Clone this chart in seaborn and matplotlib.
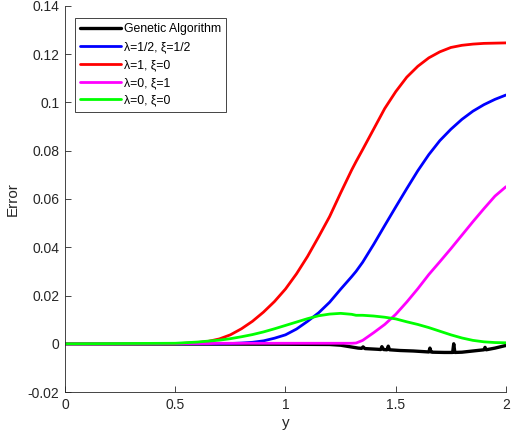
import numpy as np
import pandas as pd
import matplotlib
matplotlib.use("Agg")
import matplotlib.pyplot as plt
import seaborn as sns

# valores
x_grid = [0.0, 0.5, 0.6, 0.65, 0.7, 0.75, 0.8, 0.85, 0.9, 0.95, 1.0, 1.05, 1.1, 1.15,
          1.2, 1.25, 1.3, 1.32, 1.35, 1.4, 1.45, 1.5, 1.55, 1.6, 1.65, 1.7, 1.75,
          1.8, 1.85, 1.9, 1.95, 2.0]

err_half = [0.0, 0.0, 0.0, 0.0, 0.0, 0.0001, 0.0003, 0.0006, 0.0012, 0.0023, 0.0037,
            0.0061, 0.0093, 0.0128, 0.0172, 0.0226, 0.0278, 0.0300, 0.0338, 0.0412,
            0.0490, 0.0567, 0.0643, 0.0717, 0.0784, 0.0842, 0.0889, 0.0930, 0.0964,
            0.0991, 0.1013, 0.1031]

err_l1 = [0.0, 0.0, 0.0005, 0.0010, 0.0020, 0.0037, 0.0062, 0.0093, 0.0131, 0.0175,
          0.0227, 0.0290, 0.0362, 0.0443, 0.0527, 0.0625, 0.0720, 0.0755, 0.0805,
          0.0890, 0.0975, 0.1045, 0.1105, 0.1150, 0.1185, 0.1210, 0.1228, 0.1237,
          0.1242, 0.1245, 0.1246, 0.1247]

err_x1 = [0.0, 0.0001, 0.0001, 0.0001, 0.0002, 0.0002, 0.0002, 0.0002, 0.0002, 0.0002,
          0.0002, 0.0002, 0.0002, 0.0002, 0.0002, 0.0002, 0.0002, 0.0003, 0.0014,
          0.0046, 0.0080, 0.0122, 0.0173, 0.0228, 0.0287, 0.0340, 0.0394, 0.0450,
          0.0506, 0.0560, 0.0612, 0.0651]

err_00 = [0.0, 0.0002, 0.0007, 0.0011, 0.0015, 0.0021, 0.0029, 0.0038, 0.0049, 0.0062,
          0.0076, 0.0090, 0.0104, 0.0116, 0.0123, 0.0126, 0.0122, 0.0118, 0.0118,
          0.0115, 0.0110, 0.0103, 0.0091, 0.0080, 0.0067, 0.0052, 0.0037, 0.0024,
          0.0014, 0.0008, 0.0005, 0.0004]

# algoritmo genetico (com os picos)
x_ga = [0.0, 1.0, 1.2, 1.25, 1.29, 1.33, 1.345, 1.352, 1.36, 1.42, 1.432, 1.437,
        1.445, 1.46, 1.466, 1.472, 1.52, 1.58, 1.65, 1.655, 1.66, 1.667, 1.72,
        1.758, 1.763, 1.768, 1.8, 1.85, 1.9, 1.905, 1.91, 1.95, 2.0]
err_ga = [0.0, -0.0002, -0.0003, -0.0006, -0.0012, -0.0018, -0.0019, -0.0013, -0.0020,
          -0.0023, -0.0024, -0.0012, -0.0024, -0.0025, -0.0010, -0.0025, -0.0028,
          -0.0030, -0.0034, -0.0018, -0.0034, -0.0035, -0.0036, -0.0036, 0.0, -0.0036,
          -0.0035, -0.0030, -0.0025, -0.0015, -0.0025, -0.0018, -0.0007]

y_ticks = [-0.02, 0, 0.02, 0.04, 0.06, 0.08, 0.1, 0.12, 0.14]
y_ticklabels = ["-0.02", "0", "0.02", "0.04", "0.06", "0.08", "0.1", "0.12", "0.14"]
x_ticks = [0, 0.5, 1, 1.5, 2]
x_ticklabels = ["0", "0.5", "1", "1.5", "2"]

sns.set_style("ticks")
plt.rcParams["font.family"] = ["Liberation Sans", "DejaVu Sans"]
plt.rcParams["xtick.direction"] = "in"
plt.rcParams["ytick.direction"] = "in"

fig = plt.figure(figsize=(5.11, 4.43), dpi=100)
ax = fig.add_axes([0.1272, 0.1151, 0.8630, 0.8714])

dark = "#262626"

sns.lineplot(x=x_ga, y=err_ga, color="black", lw=2.4, label="Genetic Algorithm",
             ax=ax, sort=False)
sns.lineplot(x=x_grid, y=err_half, color="#0000ff", lw=2.0, label="λ=1/2, ξ=1/2", ax=ax)
sns.lineplot(x=x_grid, y=err_l1, color="#ff0000", lw=2.0, label="λ=1, ξ=0", ax=ax)
sns.lineplot(x=x_grid, y=err_x1, color="#ff00ff", lw=2.0, label="λ=0, ξ=1", ax=ax)
sns.lineplot(x=x_grid, y=err_00, color="#00ff00", lw=2.0, label="λ=0, ξ=0", ax=ax)

ax.set_xlim(0, 2)
ax.set_ylim(-0.02, 0.14)
ax.set_xticks(x_ticks)
ax.set_xticklabels(x_ticklabels, fontsize=10, color=dark)
ax.set_yticks(y_ticks)
ax.set_yticklabels(y_ticklabels, fontsize=10, color=dark)
ax.tick_params(length=4, width=0.6, color=dark, pad=4)
ax.set_xlabel("y", fontsize=11, color=dark, labelpad=3)
ax.set_ylabel("Error", fontsize=11, color=dark, labelpad=6)
sns.despine(ax=ax)
for s in ["left", "bottom"]:
    ax.spines[s].set_color(dark)
    ax.spines[s].set_linewidth(0.6)

leg = ax.legend(loc="upper left", bbox_to_anchor=(0.0, 0.995), fontsize=8.8,
                handlelength=3.3, handletextpad=0.25, labelspacing=0.48,
                borderpad=0.45, borderaxespad=0.8,
                fancybox=False, frameon=True, edgecolor=dark, framealpha=1)
leg.get_frame().set_linewidth(0.6)
for t in leg.get_texts():
    t.set_color("black")

plt.savefig("out.png", dpi=100)
plt.close()
